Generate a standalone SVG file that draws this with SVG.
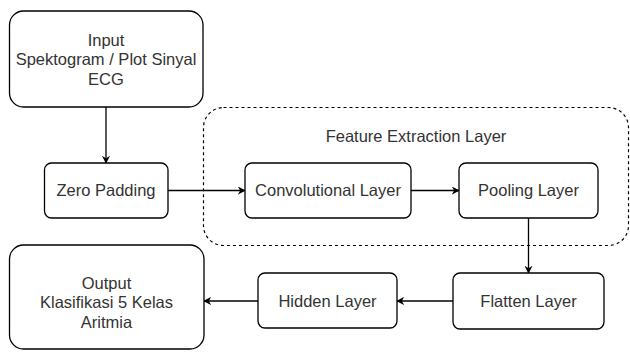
<svg xmlns="http://www.w3.org/2000/svg" width="630" height="352" viewBox="0 0 630 352">
<defs>
<style>
.box{fill:#fff;stroke:#000;stroke-width:1.3}
.grp{fill:none;stroke:#000;stroke-width:1.2;stroke-dasharray:3 3}
.t{font-family:"Liberation Sans",Arial,sans-serif;font-size:16.5px;fill:#333;text-anchor:middle}
.c{fill:none;stroke:#000;stroke-width:1.3}
</style>
<marker id="arr" viewBox="0 0 10 10" refX="9" refY="5" markerWidth="8" markerHeight="8" markerUnits="userSpaceOnUse" orient="auto">
<path d="M0,0 L10,5 L0,10 L3,5 Z" fill="#000"/>
</marker>
</defs>
<rect width="630" height="352" fill="#fff"/>
<g id="feature-extraction">
<rect class="grp" x="203.5" y="107.5" width="425" height="138" rx="20"/>
<text class="t" x="416" y="141.5">Feature Extraction Layer</text>
</g>
<g id="connectors">
<path class="c" d="M106,107 L106,163" marker-end="url(#arr)"/>
<path class="c" d="M168,190.5 L245,190.5" marker-end="url(#arr)"/>
<path class="c" d="M411,190.5 L459,190.5" marker-end="url(#arr)"/>
<path class="c" d="M528.5,218 L528.5,273" marker-end="url(#arr)"/>
<path class="c" d="M453,301 L397,301" marker-end="url(#arr)"/>
<path class="c" d="M258,301 L204,301" marker-end="url(#arr)"/>
</g>
<g id="input">
<rect class="box" x="9.5" y="11" width="193.5" height="96" rx="14"/>
<text class="t" x="106" y="45.5">Input</text>
<text class="t" x="106" y="65">Spektogram / Plot Sinyal</text>
<text class="t" x="106" y="84.5">ECG</text>
</g>
<g id="zero-padding">
<rect class="box" x="44.5" y="163" width="123.5" height="55" rx="7"/>
<text class="t" x="106" y="196">Zero Padding</text>
</g>
<g id="convolutional">
<rect class="box" x="245" y="163" width="166" height="55" rx="7"/>
<text class="t" x="328" y="196">Convolutional Layer</text>
</g>
<g id="pooling">
<rect class="box" x="459" y="163" width="139" height="55" rx="7"/>
<text class="t" x="528.5" y="196">Pooling Layer</text>
</g>
<g id="flatten">
<rect class="box" x="453" y="273" width="151" height="56" rx="7"/>
<text class="t" x="528.5" y="306.5">Flatten Layer</text>
</g>
<g id="hidden">
<rect class="box" x="258" y="273" width="139" height="55" rx="7"/>
<text class="t" x="327.5" y="306.5">Hidden Layer</text>
</g>
<g id="output">
<rect class="box" x="9.5" y="245" width="194.5" height="104" rx="14"/>
<text class="t" x="106.5" y="288.5">Output</text>
<text class="t" x="106.5" y="308">Klasifikasi 5 Kelas</text>
<text class="t" x="106.5" y="327.5">Aritmia</text>
</g>
</svg>
